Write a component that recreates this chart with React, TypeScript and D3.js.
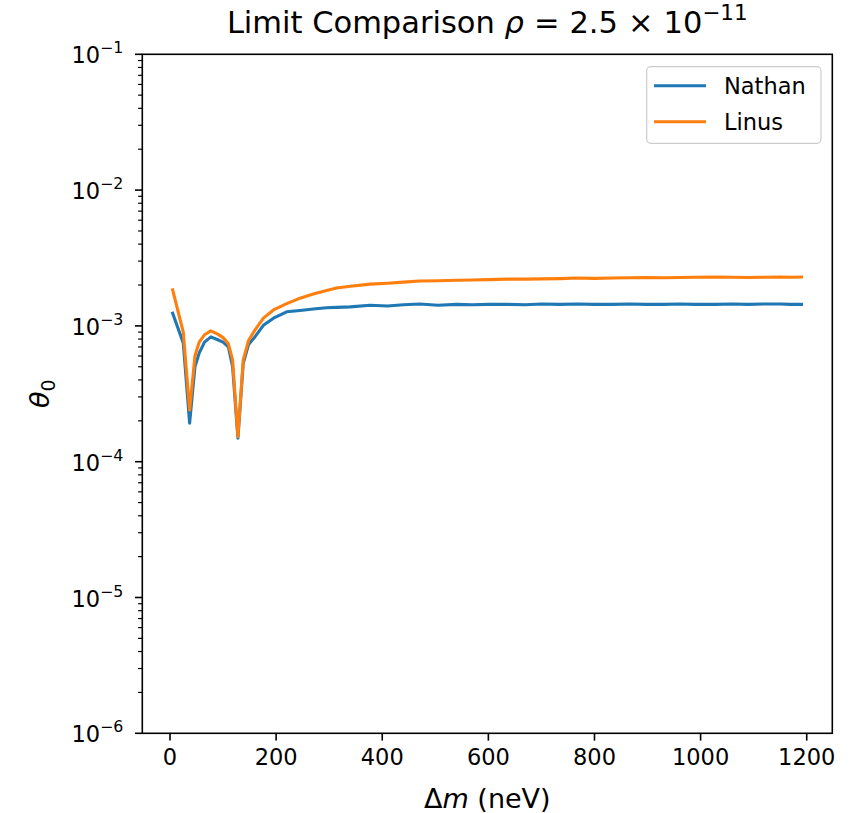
import React from "react";
import * as d3 from "d3";

const deltaM = [5, 25, 37, 47, 55, 65, 77, 90, 100, 110, 118, 128, 138, 148, 160, 176, 195, 220, 245, 270, 295, 314, 340, 377, 410, 440, 471, 505, 540, 570, 600, 636, 670, 700, 735, 767, 800, 835, 865, 897, 930, 960, 990, 1027, 1060, 1090, 1120, 1150, 1170, 1190];
const nathan = [1.24e-3, 7.5e-4, 1.92e-4, 5.0e-4, 6.3e-4, 7.6e-4, 8.3e-4, 7.9e-4, 7.6e-4, 7.0e-4, 5.0e-4, 1.49e-4, 5.3e-4, 7.3e-4, 8.3e-4, 1.01e-3, 1.14e-3, 1.27e-3, 1.30e-3, 1.33e-3, 1.36e-3, 1.37e-3, 1.38e-3, 1.42e-3, 1.40e-3, 1.43e-3, 1.45e-3, 1.42e-3, 1.44e-3, 1.43e-3, 1.44e-3, 1.44e-3, 1.43e-3, 1.45e-3, 1.44e-3, 1.45e-3, 1.44e-3, 1.44e-3, 1.45e-3, 1.44e-3, 1.44e-3, 1.45e-3, 1.44e-3, 1.44e-3, 1.45e-3, 1.44e-3, 1.45e-3, 1.45e-3, 1.44e-3, 1.44e-3];
const linus = [1.84e-3, 9.0e-4, 2.4e-4, 6.0e-4, 7.6e-4, 8.6e-4, 9.2e-4, 8.7e-4, 8.2e-4, 7.4e-4, 5.6e-4, 1.53e-4, 5.6e-4, 7.8e-4, 9.3e-4, 1.14e-3, 1.31e-3, 1.46e-3, 1.60e-3, 1.72e-3, 1.82e-3, 1.90e-3, 1.96e-3, 2.03e-3, 2.06e-3, 2.10e-3, 2.14e-3, 2.15e-3, 2.17e-3, 2.18e-3, 2.19e-3, 2.21e-3, 2.21e-3, 2.22e-3, 2.23e-3, 2.25e-3, 2.24e-3, 2.25e-3, 2.26e-3, 2.27e-3, 2.26e-3, 2.27e-3, 2.28e-3, 2.29e-3, 2.28e-3, 2.27e-3, 2.28e-3, 2.29e-3, 2.28e-3, 2.29e-3];
const xTicks = [0, 200, 400, 600, 800, 1000, 1200];
const yExponents = [-6, -5, -4, -3, -2, -1];
const seriesNames = ["Nathan", "Linus"];
const seriesColors = ["#1f77b4", "#ff7f0e"];

const FONT = "DejaVu Sans, sans-serif";

export default function App() {
  const W = 859, H = 813;
  const L = 142.3, R = 832.3, T = 54.3, B = 733.3;
  const x = d3.scaleLinear().domain([-52.2, 1248.2]).range([L, R]);
  const y = d3.scaleLog().domain([1e-6, 1e-1]).range([B, T]);
  const line = d3.line<number>().x((_, i) => x(deltaM[i])).y((v) => y(v));
  const minor: number[] = [];
  for (let k = -6; k < -1; k++) for (let m = 2; m <= 9; m++) minor.push(m * Math.pow(10, k));
  const series = [nathan, linus];
  const tickFs = 22.5;
  return (
    <svg width={W} height={H} style={{ display: "block", position: "absolute", left: 0, top: 0 }} fontFamily={FONT}>
      <rect x={0} y={0} width={W} height={H} fill="#fff" />
      <defs>
        <clipPath id="plotclip"><rect x={L} y={T} width={R - L} height={B - T} /></clipPath>
      </defs>
      <g clipPath="url(#plotclip)">
        {series.map((s, i) => (
          <path key={i} d={line(s) || ""} fill="none" stroke={seriesColors[i]} strokeWidth={3.1} strokeLinejoin="round" strokeLinecap="square" />
        ))}
      </g>
      <rect x={L} y={T} width={R - L} height={B - T} fill="none" stroke="#000" strokeWidth={1.6} />
      {xTicks.map((t) => (
        <g key={t}>
          <line x1={x(t)} x2={x(t)} y1={B} y2={B + 7.3} stroke="#000" strokeWidth={1.6} />
          <text x={x(t)} y={B + 32} textAnchor="middle" fontSize={tickFs} fill="#000">{t}</text>
        </g>
      ))}
      {yExponents.map((e) => (
        <g key={e}>
          <line x1={L - 7.3} x2={L} y1={y(Math.pow(10, e))} y2={y(Math.pow(10, e))} stroke="#000" strokeWidth={1.6} />
          <text x={L - 19} y={y(Math.pow(10, e)) + 9} textAnchor="end" fontSize={tickFs} fill="#000">
            10<tspan dy={-10} fontSize={tickFs * 0.7}>{"\u2212" + Math.abs(e)}</tspan>
          </text>
        </g>
      ))}
      {minor.map((v, i) => (
        <line key={i} x1={L - 4.2} x2={L} y1={y(v)} y2={y(v)} stroke="#000" strokeWidth={1.2} />
      ))}
      <text x={(L + R) / 2} y={808} textAnchor="middle" fontSize={27} fill="#000">
        Δ<tspan fontStyle="italic">m</tspan> (neV)
      </text>
      <text transform={`translate(49, ${(T + B) / 2}) rotate(-90)`} textAnchor="middle" fontSize={27} fill="#000">
        <tspan fontStyle="italic">θ</tspan><tspan dy={6} fontSize={19}>0</tspan>
      </text>
      <text x={(L + R) / 2} y={33} textAnchor="middle" fontSize={30.5} fill="#000">
        Limit Comparison <tspan fontStyle="italic">ρ</tspan><tspan dx={10}>=</tspan><tspan dx={10}>2.5</tspan><tspan dx={10}>×</tspan><tspan dx={10}>10</tspan><tspan dy={-13} fontSize={21.5}>−11</tspan>
      </text>
      <rect x={646.7} y={66.7} width={174.3} height={76.6} rx={4} fill="#fff" fillOpacity={0.8} stroke="#cccccc" strokeWidth={1.2} />
      {seriesNames.map((n, i) => (
        <g key={n}>
          <line x1={654} x2={706} y1={85.7 + i * 36} y2={85.7 + i * 36} stroke={seriesColors[i]} strokeWidth={3.1} />
          <text x={724} y={85.7 + i * 36 + 8} fontSize={22.5} fill="#000">{n}</text>
        </g>
      ))}
    </svg>
  );
}
